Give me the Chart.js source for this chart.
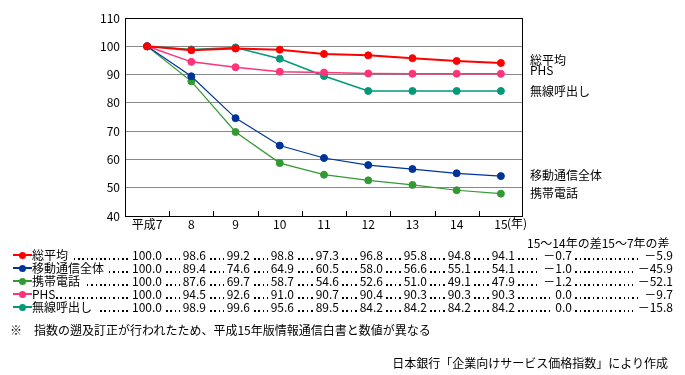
<!DOCTYPE html>
<html><head><meta charset="utf-8">
<script src="https://cdn.jsdelivr.net/npm/chart.js@4/dist/chart.umd.min.js"></script>
<style>
body{margin:0;background:#fff;}
#wrap{position:relative;width:685px;height:375px;font-family:"Noto Sans CJK JP","Noto Sans",sans-serif;font-size:12px;color:#000;overflow:hidden;}
canvas{position:absolute;left:0;top:0;}
.t{position:absolute;white-space:nowrap;line-height:14px;}
.bg{background:#fff;}
.leader{position:absolute;height:2px;background-image:repeating-linear-gradient(to right,#000 0,#000 1.5px,transparent 1.5px,transparent 4.4px);}
.mk{position:absolute;height:2px;}
.dot{position:absolute;width:7px;height:7px;border-radius:50%;}
</style></head><body>
<div id="wrap"><canvas id="c" width="685" height="375"></canvas></div>
<script>
// ---- data ----
const categories = ['平成7','8','9','10','11','12','13','14','15'];
const yearUnit = '(年)';
const seriesNames = ['総平均','移動通信全体','携帯電話','PHS','無線呼出し'];
const soHeikin   = [100.0,98.6,99.2,98.8,97.3,96.8,95.8,94.8,94.1];
const idoTsushin = [100.0,89.4,74.6,64.9,60.5,58.0,56.6,55.1,54.1];
const keitai     = [100.0,87.6,69.7,58.7,54.6,52.6,51.0,49.1,47.9];
const phs        = [100.0,94.5,92.6,91.0,90.7,90.4,90.3,90.3,90.3];
const musen      = [100.0,98.9,99.6,95.6,89.5,84.2,84.2,84.2,84.2];
const diff15_14  = [-0.7,-1.0,-1.2,0.0,0.0];
const diff15_7   = [-5.9,-45.9,-52.1,-9.7,-15.8];
const diffHeader = '15～14年の差15～7年の差';
const yMin = 40, yMax = 110, yStep = 10;
const footnote = '指数の遡及訂正が行われたため、平成15年版情報通信白書と数値が異なる';
const source = '日本銀行「企業向けサービス価格指数」により作成';

// ---- styles ----
const colors = ['#ff0000','#003399','#339933','#ff3377','#009977'];
const widths = [2,1.2,1.2,1.5,1.5];
const allSeries = [soHeikin, idoTsushin, keitai, phs, musen];
const endLabelPos = [[530,60],[530,175],[530,193],[530,70],[530,91]];

const FONT = '"Noto Sans CJK JP","Noto Sans",sans-serif';

const framePlugin = {
  id:'frame',
  beforeDatasetsDraw(chart){
    const {ctx, chartArea:a, scales:{x}} = chart;
    ctx.save();
    ctx.strokeStyle = '#000';
    ctx.lineWidth = 1;
    ctx.strokeRect(Math.round(a.left)+0.5, Math.round(a.top)+0.5, Math.round(a.right-a.left)-1, Math.round(a.bottom-a.top));
    ctx.beginPath();
    for (let i=1;i<categories.length;i++){
      const px = Math.round((x.getPixelForValue(i-1)+x.getPixelForValue(i))/2)+0.5;
      ctx.moveTo(px, a.bottom);
      ctx.lineTo(px, a.bottom-5);
    }
    ctx.stroke();
    ctx.restore();
  }
};

new Chart(document.getElementById('c'), {
  type:'line',
  data:{
    labels: categories,
    datasets: allSeries.map((d,i)=>({
      label: seriesNames[i],
      data: d,
      borderColor: colors[i],
      backgroundColor: colors[i],
      pointBackgroundColor: colors[i],
      pointBorderColor: colors[i],
      borderWidth: widths[i],
      pointRadius: 3.5,
      pointBorderWidth: 1,
      tension: 0,
      fill:false
    }))
  },
  options:{
    responsive:false,
    animation:false,
    devicePixelRatio:1,
    events:[],
    layout:{padding:{top:18,right:162,left:0,bottom:0}},
    plugins:{legend:{display:false},tooltip:{enabled:false}},
    scales:{
      x:{
        offset:true,
        grid:{display:false,drawTicks:false},
        border:{display:false},
        ticks:{color:'#000',font:{family:FONT,size:12},padding:1,maxRotation:0,autoSkip:false},
        afterFit(s){ s.height = 375-216; }
      },
      y:{
        min:yMin,max:yMax,
        grid:{color:'#888',lineWidth:1,drawTicks:false},
        border:{display:false},
        ticks:{stepSize:yStep,color:'#000',font:{family:FONT,size:12},padding:5},
        afterFit(s){ s.width = 125; }
      }
    }
  },
  plugins:[framePlugin]
});

// ---- HTML texts ----
const wrap = document.getElementById('wrap');
function add(html, cls, style){
  const d = document.createElement('div');
  d.className = cls; d.innerHTML = html;
  Object.assign(d.style, style);
  wrap.appendChild(d); return d;
}
add(yearUnit,'t',{left:'507px',top:'216px'});
seriesNames.forEach((n,i)=>{
  add(n,'t',{left:endLabelPos[i][0]+'px',top:(endLabelPos[i][1]-7)+'px'});
});
add(diffHeader,'t',{left:'527px',top:(243-7)+'px',fontSize:'12px'});
const rowY = [255,268,281,294,307];
const colEnd = [162,206,250,294,339,383,427,471,515];
const dEnd1 = 572, dEnd2 = 673;
const fmtDiff = v => v<0 ? '－'+Math.abs(v).toFixed(1) : v.toFixed(1);
seriesNames.forEach((n,i)=>{
  const y = rowY[i];
  add('','leader',{left:'34px',width:(dEnd2-34)+'px',top:(y+3)+'px'});
  add('','mk',{left:'13px',width:'19px',top:(y-1)+'px',background:colors[i]});
  add('','dot',{left:'19px',top:(y-3.5)+'px',background:colors[i]});
  add(n,'t bg',{left:'32px',top:(y-7)+'px',paddingRight:(i===3?'1px':'5px')});
  allSeries[i].forEach((v,j)=>{
    add(v.toFixed(1),'t bg',{right:(685-colEnd[j]-3)+'px',top:(y-7)+'px',padding:'0 3px'});
  });
  add(fmtDiff(diff15_14[i]),'t bg',{right:(685-dEnd1-3)+'px',top:(y-7)+'px',padding:'0 3px'});
  add(fmtDiff(diff15_7[i]),'t bg',{right:(685-dEnd2-3)+'px',top:(y-7)+'px',padding:'0 3px 0 5px'});
});
add('※','t',{left:'10px',top:(330-7)+'px'});
add(footnote,'t',{left:'34px',top:(330-7)+'px'});
add(source,'t',{right:(685-668)+'px',top:(363-7)+'px'});
</script>
</body></html>
